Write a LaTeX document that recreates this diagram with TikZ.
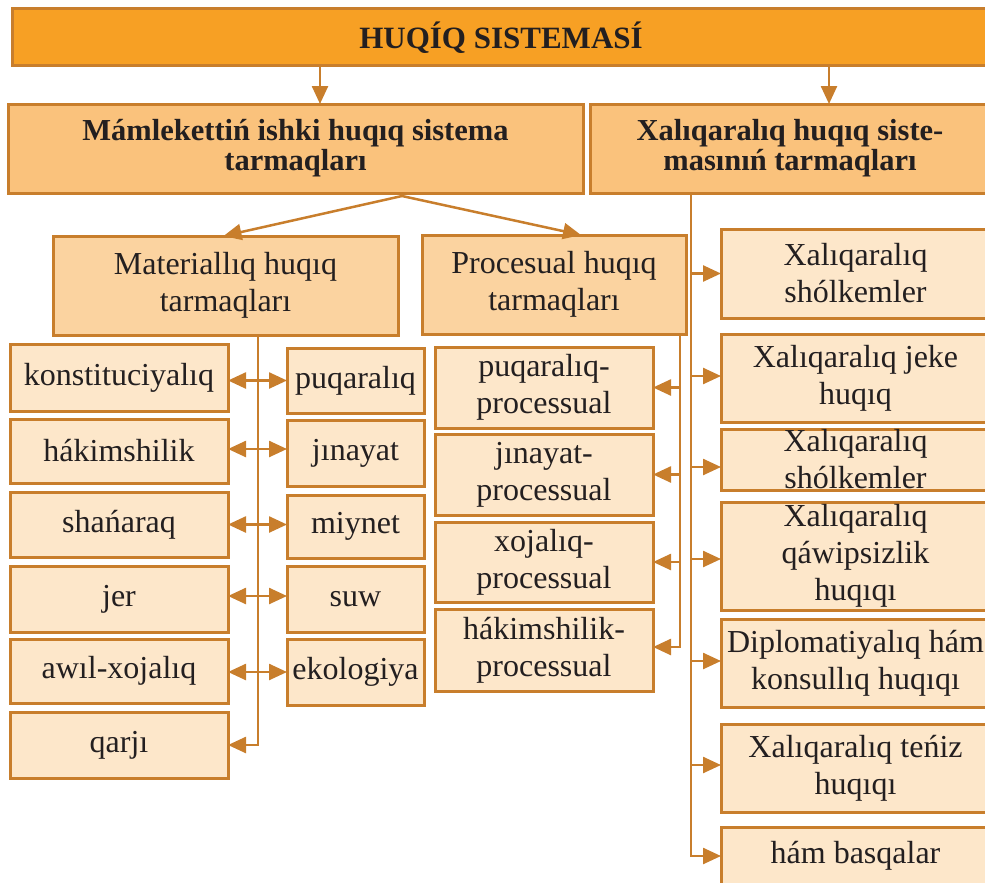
\documentclass[tikz,border=0pt]{standalone}
\usepackage{fontspec}
\setmainfont{Liberation Serif}
\usetikzlibrary{arrows.meta,calc}
\definecolor{barfill}{RGB}{247,160,36}
\definecolor{midfill}{RGB}{250,194,124}
\definecolor{subfill}{RGB}{251,211,160}
\definecolor{leaffill}{RGB}{253,231,202}
\definecolor{edge}{RGB}{200,126,44}
\definecolor{ink}{RGB}{35,31,32}
\tikzset{
  box/.style={draw=edge, line width=3pt, inner sep=0pt, outer sep=0pt, align=center, text=ink},
  topbox/.style={box, fill=barfill, font=\fontsize{31}{31}\selectfont\bfseries},
  midbox/.style={box, fill=midfill, font=\fontsize{30.5}{30}\selectfont\bfseries},
  subbox/.style={box, fill=subfill, font=\fontsize{32}{37}\selectfont},
  leafbox/.style={box, fill=leaffill, font=\fontsize{32}{37}\selectfont},
  conn/.style={draw=edge, line width=2.5pt},
  arr/.style={conn, -{Triangle[length=18pt,width=16pt]}},
  dbl/.style={conn, {Triangle[length=18pt,width=16pt]}-{Triangle[length=18pt,width=16pt]}},
}
\begin{document}
\begin{tikzpicture}[x=1pt,y=-1pt]
\useasboundingbox (0,0) rectangle (985,883);
\clip (0,0) rectangle (985,883);
% top
\node[topbox, minimum width=978pt, minimum height=57pt] (top) at (501,37.5) {HUQÍQ SISTEMASÍ};
\node[midbox, minimum width=575pt, minimum height=89pt] (L2a) at (295.5,148.5) {Mámlekettiń ishki huqıq sistema\\tarmaqları};
\node[midbox, minimum width=400pt, minimum height=89pt] (L2b) at (790,148.5) {Xalıqaralıq huqıq siste-\\masınıń tarmaqları};
\node[subbox, minimum width=345pt, minimum height=99pt] (mat) at (225.5,285.5) {Materiallıq huqıq\\tarmaqları};
\node[subbox, minimum width=264pt, minimum height=99pt] (pro) at (554,284.5) {Procesual huqıq\\tarmaqları};
% left column
\node[leafbox, minimum width=218pt, minimum height=67pt] (konst) at (119,377.5) {konstituciyalıq};
\node[leafbox, minimum width=218pt, minimum height=64pt] (hakim) at (119,451) {hákimshilik};
\node[leafbox, minimum width=218pt, minimum height=65pt] (shan) at (119,524.5) {shańaraq};
\node[leafbox, minimum width=218pt, minimum height=66pt] (jer) at (119,599) {jer};
\node[leafbox, minimum width=218pt, minimum height=64pt] (awil) at (119,671) {awıl-xojalıq};
\node[leafbox, minimum width=218pt, minimum height=66pt] (qarji) at (119,745) {qarjı};
% second column
\node[leafbox, minimum width=137pt, minimum height=65pt] (puq) at (355.5,380.5) {puqaralıq};
\node[leafbox, minimum width=137pt, minimum height=66pt] (jin) at (355.5,453) {jınayat};
\node[leafbox, minimum width=137pt, minimum height=63pt] (miy) at (355.5,526.5) {miynet};
\node[leafbox, minimum width=137pt, minimum height=66pt] (suw) at (355.5,599) {suw};
\node[leafbox, minimum width=137pt, minimum height=66pt] (eko) at (355.5,672) {ekologiya};
% processual column
\node[leafbox, minimum width=218pt, minimum height=81pt] (pp1) at (544,387.5) {puqaralıq-\\processual};
\node[leafbox, minimum width=218pt, minimum height=81pt] (pp2) at (544,474.5) {jınayat-\\processual};
\node[leafbox, minimum width=218pt, minimum height=80pt] (pp3) at (544,562) {xojalıq-\\processual};
\node[leafbox, minimum width=218pt, minimum height=82pt] (pp4) at (544,650) {hákimshilik-\\processual};
% international column
\node[leafbox, minimum width=269pt, minimum height=89pt] (x1) at (855.5,273.5) {Xalıqaralıq\\shólkemler};
\node[leafbox, minimum width=269pt, minimum height=88pt] (x2) at (855.5,378) {Xalıqaralıq jeke\\huqıq};
\node[leafbox, minimum width=269pt, minimum height=61pt] (x3) at (855.5,459.5) {Xalıqaralıq\\shólkemler};
\node[leafbox, minimum width=269pt, minimum height=108pt] (x4) at (855.5,556) {Xalıqaralıq\\qáwipsizlik\\huqıqı};
\node[leafbox, minimum width=269pt, minimum height=88pt] (x5) at (855.5,663) {Diplomatiyalıq hám\\konsullıq huqıqı};
\node[leafbox, minimum width=269pt, minimum height=88pt] (x6) at (855.5,768) {Xalıqaralıq teńiz\\huqıqı};
\node[leafbox, minimum width=269pt, minimum height=58pt] (x7) at (855.5,856) {hám basqalar};
% connectors from the top bar
\draw[arr] ([xshift=-181pt]top.south) -- ([xshift=24.5pt]L2a.north);
\draw[arr] ([xshift=328pt]top.south) -- ([xshift=39pt]L2b.north);
% split below the state-law box
\coordinate (j) at ([xshift=106.5pt,yshift=-3pt]L2a.south);
\draw[conn] ([xshift=106.5pt]L2a.south) -- (j);
\draw[arr] (j) -- ([xshift=-2pt]mat.north);
\draw[arr] (j) -- ([xshift=27pt]pro.north);
% material branch
\coordinate (ms) at ([xshift=32.5pt]mat.south);
\draw[arr] (ms) |- (qarji.east);
\draw[dbl] (konst.east |- puq.west) -- (puq.west);
\draw[dbl] ([yshift=2pt]hakim.east) -- ([yshift=2pt]hakim.east -| jin.west);
\draw[dbl] (shan.east) -- (shan.east -| miy.west);
\draw[dbl] ([yshift=3pt]jer.east) -- ([yshift=3pt]jer.east -| suw.west);
\draw[dbl] (awil.east |- eko.west) -- (eko.west);
% processual branch
\coordinate (ps) at ([xshift=126pt]pro.south);
\draw[arr] (ps) |- ([yshift=3pt]pp4.east);
\draw[arr] (ps |- pp1.east) -- (pp1.east);
\draw[arr] (ps |- pp2.east) -- (pp2.east);
\draw[arr] (ps |- pp3.east) -- (pp3.east);
% international branch
\coordinate (rs) at ([xshift=-99pt]L2b.south);
\draw[arr] (rs) |- (x7.west);
\draw[arr] (rs |- x1.west) -- (x1.west);
\draw[arr] ([yshift=2pt]rs |- x2.west) -- ([yshift=2pt]x2.west);
\draw[arr] ([yshift=-7.5pt]rs |- x3.west) -- ([yshift=-7.5pt]x3.west);
\draw[arr] ([yshift=-3pt]rs |- x4.west) -- ([yshift=-3pt]x4.west);
\draw[arr] ([yshift=2pt]rs |- x5.west) -- ([yshift=2pt]x5.west);
\draw[arr] ([yshift=3pt]rs |- x6.west) -- ([yshift=3pt]x6.west);
\end{tikzpicture}
\end{document}
